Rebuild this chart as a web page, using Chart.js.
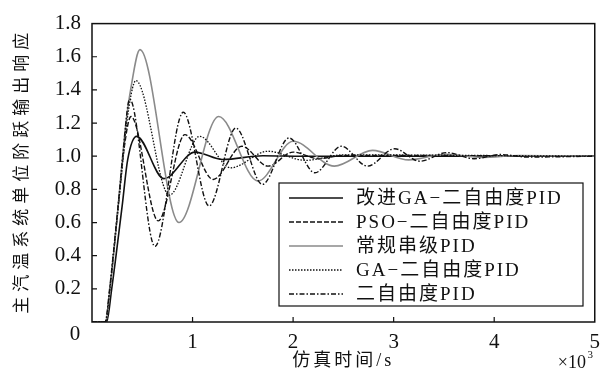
<!DOCTYPE html>
<html>
<head>
<meta charset="utf-8">
<script src="https://cdn.jsdelivr.net/npm/chart.js@4.4.1/dist/chart.umd.min.js"></script>
<style>
    html, body { margin: 0; padding: 0; background: #fff; }
</style>
</head>
<body>
<canvas id="chart" width="608" height="374"></canvas>
<script>
/* global Chart */

const SERIF = '"Liberation Serif", "Noto Sans CJK SC", serif';

const seriesNames = ['改进GA−二自由度PID', 'PSO−二自由度PID', '常规串级PID', 'GA−二自由度PID', '二自由度PID'];

// time (s) and response value at the turning points
const tImproved = [0, 145, 196, 239, 300, 355, 444, 715, 1024, 1300, 1700, 2100, 5000];
const yImproved = [0, 0, 0.2, 0.4, 0.7, 0.98, 1.12, 0.865, 1.025, 0.98, 1.003, 1.0, 1.0];

const tPso = [0, 135, 178, 212, 278, 320, 388, 659, 924, 1206, 1490, 1750, 2000, 2250, 2500, 5000];
const yPso = [0, 0, 0.2, 0.4, 0.8, 1.05, 1.24, 0.61, 1.13, 0.86, 1.06, 0.94, 1.025, 0.985, 1.005, 1.0];

const tCascade = [0, 135, 180, 214, 275, 305, 338, 384, 477, 865, 1260, 1650, 2000, 2410, 2790, 3150, 3520, 3880, 4250, 5000];
const yCascade = [0, 0, 0.2, 0.4, 0.8, 1.0, 1.2, 1.4, 1.643, 0.60, 1.24, 0.85, 1.09, 0.94, 1.035, 0.978, 1.012, 0.993, 1.004, 1.0];

const tGa = [0, 135, 178, 212, 278, 311, 345, 437, 770, 1070, 1380, 1750, 2120, 2500, 5000];
const yGa = [0, 0, 0.2, 0.4, 0.8, 1.0, 1.2, 1.456, 0.765, 1.12, 0.93, 1.03, 0.975, 1.008, 1.0];

const tTwoDof = [0, 130, 175, 210, 275, 305, 375, 626, 908, 1165, 1430, 1695, 1960, 2217, 2480, 2740, 3010, 3260, 3530, 3800, 4060, 4330, 5000];
const yTwoDof = [0, 0, 0.2, 0.4, 0.8, 1.0, 1.345, 0.456, 1.265, 0.70, 1.17, 0.83, 1.11, 0.90, 1.06, 0.94, 1.045, 0.97, 1.022, 0.985, 1.01, 0.995, 1.0];

const xTicks = [1000, 2000, 3000, 4000];
const yTicks = [0.2, 0.4, 0.6, 0.8, 1.0, 1.2, 1.4, 1.6];

function toPoints(ts, ys) {
    return ts.map((t, i) => ({ x: t, y: ys[i] }));
}

function makeDataset(label, ts, ys, color, width, dash) {
    return {
        label,
        data: toPoints(ts, ys),
        borderColor: color,
        borderWidth: width,
        borderDash: dash,
        pointRadius: 0,
        fill: false,
        cubicInterpolationMode: 'monotone'
    };
}

const datasets = [
    makeDataset(seriesNames[4], tTwoDof, yTwoDof, '#111', 1.4, [5, 2, 1.5, 2]),
    makeDataset(seriesNames[3], tGa, yGa, '#111', 1.3, [1.5, 1.5]),
    makeDataset(seriesNames[2], tCascade, yCascade, '#8a8a8a', 1.6, []),
    makeDataset(seriesNames[1], tPso, yPso, '#111', 1.4, [5, 2]),
    makeDataset(seriesNames[0], tImproved, yImproved, '#111', 1.6, [])
];

const framePlugin = {
    id: 'frame',
    afterDraw(chart) {
        const ctx = chart.ctx;
        const area = chart.chartArea;
        const xs = chart.scales.x;
        const ys = chart.scales.y;

        ctx.save();
        ctx.strokeStyle = '#111';
        ctx.lineWidth = 1.5;
        ctx.setLineDash([]);
        ctx.strokeRect(area.left, area.top, area.right - area.left, area.bottom - area.top);

        // inward ticks
        ctx.lineWidth = 1.2;
        ctx.beginPath();
        xTicks.forEach(v => {
            const px = xs.getPixelForValue(v);
            ctx.moveTo(px, area.bottom);
            ctx.lineTo(px, area.bottom - 5);
        });
        yTicks.forEach(v => {
            const py = ys.getPixelForValue(v);
            ctx.moveTo(area.left, py);
            ctx.lineTo(area.left + 5, py);
        });
        ctx.stroke();

        // legend
        const box = { left: 279, top: 183, right: 583, bottom: 306 };
        ctx.fillStyle = '#fff';
        ctx.fillRect(box.left, box.top, box.right - box.left, box.bottom - box.top);
        ctx.lineWidth = 1.2;
        ctx.strokeRect(box.left, box.top, box.right - box.left, box.bottom - box.top);

        ctx.font = '19px ' + SERIF;
        ctx.textBaseline = 'middle';
        ctx.textAlign = 'left';
        ctx.letterSpacing = '2px';
        const order = [4, 3, 2, 1, 0];
        order.forEach((dsIndex, row) => {
            const ds = chart.data.datasets[dsIndex];
            const y = box.top + 15 + row * 24;
            ctx.strokeStyle = ds.borderColor;
            ctx.lineWidth = ds.borderWidth;
            ctx.setLineDash(ds.borderDash);
            ctx.beginPath();
            ctx.moveTo(289, y);
            ctx.lineTo(343, y);
            ctx.stroke();
            ctx.fillStyle = '#111';
            ctx.fillText(ds.label, 356, y + 1);
        });
        ctx.setLineDash([]);

        // origin label and axis titles
        ctx.letterSpacing = '0px';
        ctx.font = '21px ' + SERIF;
        ctx.textAlign = 'center';
        ctx.fillText('0', 75, 334);

        ctx.font = '18px ' + SERIF;
        ctx.letterSpacing = '3px';
        ctx.fillText('仿真时间/s', (area.left + area.right) / 2, 361);

        ctx.letterSpacing = '0px';
        ctx.textAlign = 'right';
        ctx.font = '18px ' + SERIF;
        ctx.fillText('×10', 586, 363);
        ctx.font = '11px ' + SERIF;
        ctx.fillText('3', 593, 355);

        ctx.translate(23, (area.top + area.bottom) / 2 - 2);
        ctx.rotate(-Math.PI / 2);
        ctx.textAlign = 'center';
        ctx.font = '17px ' + SERIF;
        ctx.letterSpacing = '5px';
        ctx.fillText('主汽温系统单位阶跃输出响应', 0, 0);
        ctx.restore();
    }
};

new Chart(document.getElementById('chart'), {
    type: 'line',
    data: { datasets },
    plugins: [framePlugin],
    options: {
        responsive: false,
        animation: false,
        layout: { padding: { left: 0, right: 13, top: 18, bottom: 0 } },
        plugins: {
            legend: { display: false },
            tooltip: { enabled: false }
        },
        scales: {
            x: {
                type: 'linear',
                min: 0,
                max: 5000,
                afterFit: scale => { scale.height = 52; },
                grid: { display: false, drawTicks: false },
                border: { display: false },
                ticks: {
                    stepSize: 1000,
                    padding: 8,
                    color: '#111',
                    font: { family: SERIF, size: 21 },
                    callback: value => value === 0 ? '' : String(value / 1000)
                }
            },
            y: {
                min: 0,
                max: 1.8,
                afterFit: scale => { scale.width = 92; },
                grid: { display: false, drawTicks: false },
                border: { display: false },
                ticks: {
                    stepSize: 0.2,
                    padding: 11,
                    color: '#111',
                    font: { family: SERIF, size: 21 },
                    callback: value => value < 0.01 ? '' : value.toFixed(1)
                }
            }
        }
    }
});
</script>
</body>
</html>
